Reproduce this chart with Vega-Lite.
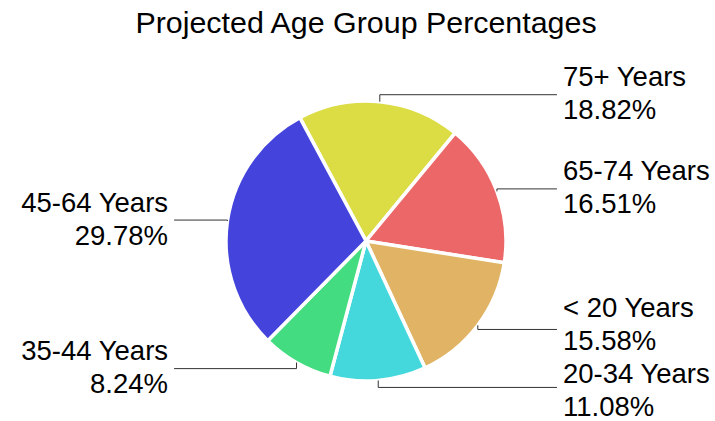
{
  "$schema": "https://vega.github.io/schema/vega-lite/v6.json",
  "width": 698,
  "height": 360,
  "autosize": "none",
  "padding": {"left": 17, "top": 61, "right": 0, "bottom": 0},
  "title": {"text": "Projected Age Group Percentages", "fontSize": 30.4, "font": "Liberation Sans", "fontWeight": "normal", "color": "black", "anchor": "middle", "offset": 22},
  "config": {"view": {"stroke": null}},
  "data": {"values": [
    {"group": "75+ Years", "value": 18.82, "order": 1},
    {"group": "65-74 Years", "value": 16.51, "order": 2},
    {"group": "< 20 Years", "value": 15.58, "order": 3},
    {"group": "20-34 Years", "value": 11.08, "order": 4},
    {"group": "35-44 Years", "value": 8.24, "order": 5},
    {"group": "45-64 Years", "value": 29.78, "order": 6}
  ]},
  "transform": [
    {"window": [{"op": "sum", "field": "value", "as": "cum"}], "sort": [{"field": "order"}], "frame": [null, 0]},
    {"joinaggregate": [{"op": "sum", "field": "value", "as": "total"}]},
    {"calculate": "-0.4925 + 2*PI*(datum.cum - datum.value/2)/datum.total", "as": "mid"},
    {"calculate": "sin(datum.mid)", "as": "ex"},
    {"calculate": "cos(datum.mid)", "as": "ey"},
    {"calculate": "1.05*cos(datum.mid)", "as": "ly"},
    {"calculate": "datum.ex > 0 ? 'R' : 'L'", "as": "side"},
    {"calculate": "datum.ex > 0 ? 1.364 : -1.371", "as": "lx"},
    {"calculate": "datum.ex > 0 ? 1.407 : -1.414", "as": "tx"},
    {"window": [{"op": "lag", "field": "ly", "as": "prevY"}, {"op": "lead", "field": "ly", "as": "nextY"}], "groupby": ["side"], "sort": [{"field": "ly", "order": "descending"}]},
    {"calculate": "isValid(datum.prevY) ? max(0, 0.4714 - (datum.prevY - datum.ly)) / 2 : 0", "as": "down"},
    {"calculate": "isValid(datum.nextY) ? max(0, 0.4714 - (datum.ly - datum.nextY)) / 2 : 0", "as": "up"},
    {"calculate": "datum.ly - datum.down + datum.up", "as": "ty"},
    {"calculate": "[datum.group, format(datum.value, '.2f') + '%']", "as": "label"}
  ],
  "layer": [
    {
      "mark": {"type": "arc", "outerRadius": 140, "stroke": "white", "strokeWidth": 3.5},
      "encoding": {
        "theta": {"field": "value", "type": "quantitative", "stack": true, "scale": {"range": [-0.4925, 5.7907]}},
        "color": {"field": "group", "type": "nominal", "legend": null,
          "scale": {"domain": ["75+ Years", "65-74 Years", "< 20 Years", "20-34 Years", "35-44 Years", "45-64 Years"],
                    "range": ["#dcdc44", "#ec6868", "#e0b464", "#44d8dc", "#44dc80", "#4444dc"]}},
        "order": {"field": "order", "type": "quantitative"}
      }
    },
    {
      "mark": {"type": "rule", "color": "#333333", "strokeWidth": 1},
      "encoding": {
        "x": {"field": "ex", "type": "quantitative", "scale": {"domain": [-2.492857, 2.492857], "nice": false, "zero": false}, "axis": null},
        "y": {"field": "ey", "type": "quantitative", "scale": {"domain": [-1.285714, 1.285714], "nice": false, "zero": false}, "axis": null},
        "y2": {"field": "ly"}
      }
    },
    {
      "mark": {"type": "rule", "color": "#333333", "strokeWidth": 1},
      "encoding": {
        "x": {"field": "ex", "type": "quantitative"},
        "x2": {"field": "lx"},
        "y": {"field": "ly", "type": "quantitative"}
      }
    },
    {
      "transform": [{"filter": "datum.ex > 0"}],
      "mark": {"type": "text", "align": "left", "baseline": "middle", "dy": -16.5, "fontSize": 27.5, "lineHeight": 33, "font": "Liberation Sans", "color": "black"},
      "encoding": {
        "x": {"field": "tx", "type": "quantitative"},
        "y": {"field": "ty", "type": "quantitative"},
        "text": {"field": "label"}
      }
    },
    {
      "transform": [{"filter": "datum.ex <= 0"}],
      "mark": {"type": "text", "align": "right", "baseline": "middle", "dy": -16.5, "fontSize": 27.5, "lineHeight": 33, "font": "Liberation Sans", "color": "black"},
      "encoding": {
        "x": {"field": "tx", "type": "quantitative"},
        "y": {"field": "ty", "type": "quantitative"},
        "text": {"field": "label"}
      }
    }
  ]
}
